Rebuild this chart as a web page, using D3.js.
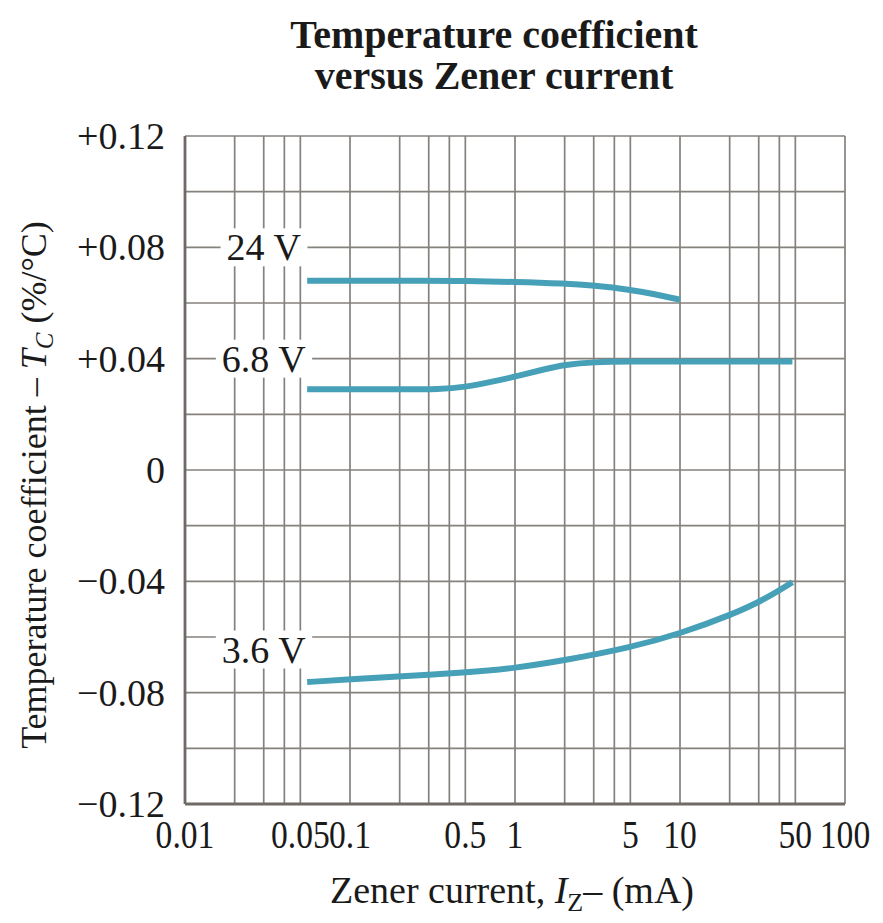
<!DOCTYPE html>
<html>
<head>
<meta charset="utf-8">
<script src="https://cdn.jsdelivr.net/npm/d3@7"></script>
<style>
  body { margin: 0; background: #fff; }
  svg { display: block; }
  text { font-family: "Liberation Serif", "DejaVu Serif", serif; fill: #1a1a1a; }
</style>
</head>
<body>
<div id="chart"></div>
<script>
// data
const current24 = [0.055, 0.1, 0.3, 0.5, 1, 2, 3, 5, 7, 10]
const tc24 = [0.068, 0.068, 0.068, 0.0679, 0.0676, 0.067, 0.0663, 0.0648, 0.0632, 0.0612]

const current68 = [0.055, 0.1, 0.2, 0.35, 0.5, 0.7, 1, 1.5, 2, 3, 5, 10, 20, 48]
const tc68 = [0.029, 0.029, 0.029, 0.029, 0.0298, 0.0315, 0.0335, 0.0362, 0.0378, 0.0388, 0.039, 0.039, 0.039, 0.039]

const current36 = [0.055, 0.1, 0.2, 0.5, 1, 2, 5, 10, 21, 33, 48]
const tc36 = [-0.0762, -0.0752, -0.0742, -0.0728, -0.0712, -0.0684, -0.0638, -0.0588, -0.0518, -0.0463, -0.0403]

const seriesNames = ["24 V", "6.8 V", "3.6 V"]
const labelAt = [[0.03, 0.08], [0.03, 0.04], [0.03, -0.0645]]

const xTicks = [0.01, 0.05, 0.1, 0.5, 1, 5, 10, 50, 100]
const xTickLabels = ["0.01", "0.05", "0.1", "0.5", "1", "5", "10", "50", "100"]
const yTicks = [0.12, 0.08, 0.04, 0, -0.04, -0.08, -0.12]
const yTickLabels = ["+0.12", "+0.08", "+0.04", "0", "\u22120.04", "\u22120.08", "\u22120.12"]

// ----------------------------------------------------------

const width = 883
const height = 923
const margin = { top: 136, bottom: 119, left: 185, right: 38 }
const innerW = width - margin.left - margin.right
const innerH = height - margin.top - margin.bottom

const svg = d3.select("#chart").append("svg").attr("width", width).attr("height", height)
const g = svg.append("g").attr("transform", `translate(${margin.left}, ${margin.top})`)

const x = d3.scaleLog().domain([0.01, 100]).range([0, innerW])
const y = d3.scaleLinear().domain([-0.12, 0.12]).range([innerH, 0])

const gridColor = "#85817c"
const lineColor = "#46a0b7"

// vertical grid 1..5 per decade
const vGrid = []
for (let p = -2; p < 2; p++) {
  for (let k = 1; k <= 5; k++) vGrid.push(k * Math.pow(10, p))
}
vGrid.push(100)
g.append("g").selectAll("line").data(vGrid).join("line")
  .attr("x1", d => x(d)).attr("x2", d => x(d))
  .attr("y1", 0).attr("y2", innerH)
  .attr("stroke", gridColor).attr("stroke-width", 1.7)

const hGrid = d3.range(-0.12, 0.1201, 0.02)
g.append("g").selectAll("line").data(hGrid).join("line")
  .attr("x1", 0).attr("x2", innerW)
  .attr("y1", d => y(d)).attr("y2", d => y(d))
  .attr("stroke", gridColor).attr("stroke-width", 1.7)

// heavier left and bottom frame
g.append("line").attr("x1", 0).attr("x2", 0).attr("y1", 0).attr("y2", innerH)
  .attr("stroke", "#6f6a65").attr("stroke-width", 2.8)
g.append("line").attr("x1", 0).attr("x2", innerW).attr("y1", innerH).attr("y2", innerH)
  .attr("stroke", "#6f6a65").attr("stroke-width", 2.8)

// curves
const series = [
  { xs: current24, ys: tc24 },
  { xs: current68, ys: tc68 },
  { xs: current36, ys: tc36 }
]
const line = d3.line().x(d => x(d[0])).y(d => y(d[1])).curve(d3.curveBasis)
series.forEach(s => {
  g.append("path")
    .datum(s.xs.map((v, i) => [v, s.ys[i]]))
    .attr("d", line)
    .attr("fill", "none")
    .attr("stroke", lineColor)
    .attr("stroke-width", 6)
})

// series labels with white knockout
seriesNames.forEach((name, i) => {
  const lg = g.append("g")
  const t = lg.append("text")
    .attr("x", x(labelAt[i][0])).attr("y", y(labelAt[i][1]))
    .attr("text-anchor", "middle").attr("dominant-baseline", "central")
    .attr("font-size", 38).text(name)
  const b = t.node().getBBox()
  lg.insert("rect", "text")
    .attr("x", b.x - 6).attr("y", b.y + 2).attr("width", b.width + 12).attr("height", b.height - 4)
    .attr("fill", "#fff")
})

// y tick labels
g.append("g").selectAll("text").data(yTicks).join("text")
  .attr("x", -20).attr("y", d => y(d))
  .attr("text-anchor", "end").attr("dominant-baseline", "central")
  .attr("font-size", 38)
  .text((d, i) => yTickLabels[i])

// x tick labels, slightly condensed like the printed figure
g.append("g").selectAll("text").data(xTicks).join("text")
  .attr("transform", d => `translate(${x(d)}, ${innerH + 44}) scale(0.82, 1)`)
  .attr("text-anchor", "middle")
  .attr("font-size", 41)
  .text((d, i) => xTickLabels[i])

// axis titles
const xt = svg.append("text").attr("x", 512).attr("y", 903).attr("text-anchor", "middle").attr("font-size", 38)
xt.append("tspan").text("Zener current, ")
xt.append("tspan").attr("font-style", "italic").text("I")
xt.append("tspan").attr("font-size", 26).attr("dy", 8).text("Z")
xt.append("tspan").attr("dy", -8).text("\u2013 (mA)")

const yt = svg.append("text").attr("transform", "translate(46, 485) rotate(-90)")
  .attr("text-anchor", "middle").attr("font-size", 36)
yt.append("tspan").text("Temperature coefficient \u2013 ")
yt.append("tspan").attr("font-style", "italic").text("T")
yt.append("tspan").attr("font-style", "italic").attr("font-size", 25).attr("dy", 7).text("C")
yt.append("tspan").attr("dy", -7).text(" (%/\u00B0C)")

// title
const title = svg.append("text").attr("text-anchor", "middle").attr("font-weight", "bold").attr("font-size", 40)
title.append("tspan").attr("x", 494).attr("y", 48).text("Temperature coefficient")
title.append("tspan").attr("x", 494).attr("y", 89).text("versus Zener current")
</script>
</body>
</html>
